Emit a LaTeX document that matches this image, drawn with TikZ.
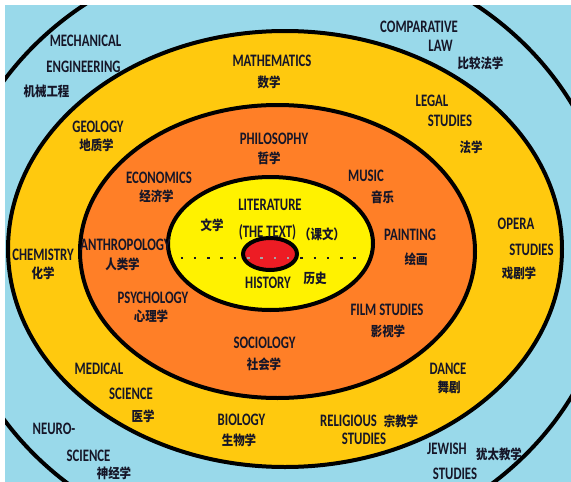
\documentclass[tikz,border=0pt]{standalone}
\usepackage{fontspec}
\newfontfamily\labfont{Carlito}[FakeStretch=0.73]
\newfontfamily\zhfont{Noto Sans CJK SC}[FakeStretch=0.85]
\definecolor{skyb}{RGB}{153,217,234}
\definecolor{goldc}{RGB}{255,201,14}
\definecolor{orangec}{RGB}{255,127,39}
\definecolor{yelc}{RGB}{255,242,0}
\definecolor{redc}{RGB}{237,28,36}
\definecolor{ink}{RGB}{22,22,40}
\begin{document}
\begin{tikzpicture}[x=1pt,y=-1pt,
 ring/.style={draw=black, line width=4pt},
 dotline/.style={line width=2.5pt, dash pattern=on 2.5pt off 10.8pt},
 lab/.style={inner sep=0pt, text=ink, font=\labfont\bfseries\fontsize{17.5}{18}\selectfont, text height=11.5pt, text depth=0pt},
 zh/.style={inner sep=0pt, text=ink, font=\zhfont\bfseries\fontsize{13.5}{14}\selectfont, text height=11.5pt, text depth=0pt}]
\useasboundingbox (0,0) rectangle (571,482);
\fill[white] (0,0) rectangle (571,482);
\fill[skyb] (5,5) rectangle (571,482);
\begin{scope}
\clip (5,5) rectangle (571,482);
\draw[ring] (280,250) ellipse [x radius=333pt, y radius=303pt];
\end{scope}
\draw[ring, fill=goldc] (285,249) ellipse [x radius=277pt, y radius=218pt];
\draw[ring, fill=orangec] (277.5,251.5) ellipse [x radius=197.5pt, y radius=146.5pt];
\draw[ring, fill=yelc] (270.5,243.5) ellipse [x radius=102.5pt, y radius=66.5pt];
\draw[ring, fill=redc] (270,254) ellipse [x radius=27pt, y radius=16pt];
\draw[dotline, ink] (180.5,258) -- (357,258);
\begin{scope}
\clip (270,254) ellipse [x radius=25pt, y radius=14pt];
\draw[dotline, gray!70] (180.5,258) -- (357,258);
\end{scope}
% outer band
\node[lab] (mech) at (85.5,41) {MECHANICAL};
\node[lab] (engi) at (83.5,67) {ENGINEERING};
\node[zh] (mechzh) at (46.5,91) {机械工程};
\node[lab] (comp) at (419,27) {COMPARATIVE};
\node[lab] (law) at (440.5,46) {LAW};
\node[zh] (compzh) at (480.5,63) {比较法学};
\node[lab] (neuro) at (54,429) {NEURO-};
\node[lab] (nsci) at (88.5,456) {SCIENCE};
\node[zh] (neurozh) at (114,472.5) {神经学};
\node[lab] (jew) at (447,448.5) {JEWISH};
\node[zh] (jewzh) at (499,453.5) {犹太教学};
\node[lab] (jstud) at (455,474) {STUDIES};
% gold band
\node[lab] (geo) at (98,127) {GEOLOGY};
\node[zh] (geozh) at (96.5,145) {地质学};
\node[lab] (math) at (272,61) {MATHEMATICS};
\node[zh] (mathzh) at (269,82) {数学};
\node[lab] (legal) at (432,101) {LEGAL};
\node[lab] (lstud) at (450,121) {STUDIES};
\node[zh] (legalzh) at (471,147) {法学};
\node[lab] (chem) at (43,255) {CHEMISTRY};
\node[zh] (chemzh) at (43,273) {化学};
\node[lab] (opera) at (516,223.5) {OPERA};
\node[lab] (ostud) at (531.5,250) {STUDIES};
\node[zh] (operazh) at (519,273) {戏剧学};
\node[lab] (med) at (99,368.5) {MEDICAL};
\node[lab] (msci) at (131,394) {SCIENCE};
\node[zh] (medzh) at (143,415.5) {医学};
\node[lab] (bio) at (241.5,420) {BIOLOGY};
\node[zh] (biozh) at (239,440) {生物学};
\node[lab] (dance) at (448,368.5) {DANCE};
\node[zh] (dancezh) at (449,387) {舞剧};
\node[lab] (relig) at (348.5,421) {RELIGIOUS};
\node[zh] (religzh) at (401,421) {宗教学};
\node[lab] (rstud) at (364,439) {STUDIES};
% orange band
\node[lab] (phil) at (274,139) {PHILOSOPHY};
\node[zh] (philzh) at (269,158) {哲学};
\node[lab] (econ) at (159,177.5) {ECONOMICS};
\node[zh] (econzh) at (156.5,196) {经济学};
\node[lab] (music) at (366,176) {MUSIC};
\node[zh] (musiczh) at (382.5,197) {音乐};
\node[lab] (anth) at (125.5,245) {ANTHROPOLOGY};
\node[zh] (anthzh) at (122.5,264) {人类学};
\node[lab] (paint) at (410,235) {PAINTING};
\node[zh] (paintzh) at (416,259) {绘画};
\node[lab] (psych) at (153,297.5) {PSYCHOLOGY};
\node[zh] (psychzh) at (151,316) {心理学};
\node[lab] (film) at (387,310) {FILM STUDIES};
\node[zh] (filmzh) at (388,331) {影视学};
\node[lab] (soc) at (264.5,342.5) {SOCIOLOGY};
\node[zh] (soczh) at (264,364) {社会学};
% yellow core
\node[lab] (lit) at (270,205) {LITERATURE};
\node[zh] (litzh) at (212,225) {文学};
\node[lab] (text) at (267.5,232) {(THE TEXT)};
\node[zh] (textzh) at (322,234) {（课文）};
\node[lab] (hist) at (268,283) {HISTORY};
\node[zh] (histzh) at (315,278) {历史};
\end{tikzpicture}
\end{document}
